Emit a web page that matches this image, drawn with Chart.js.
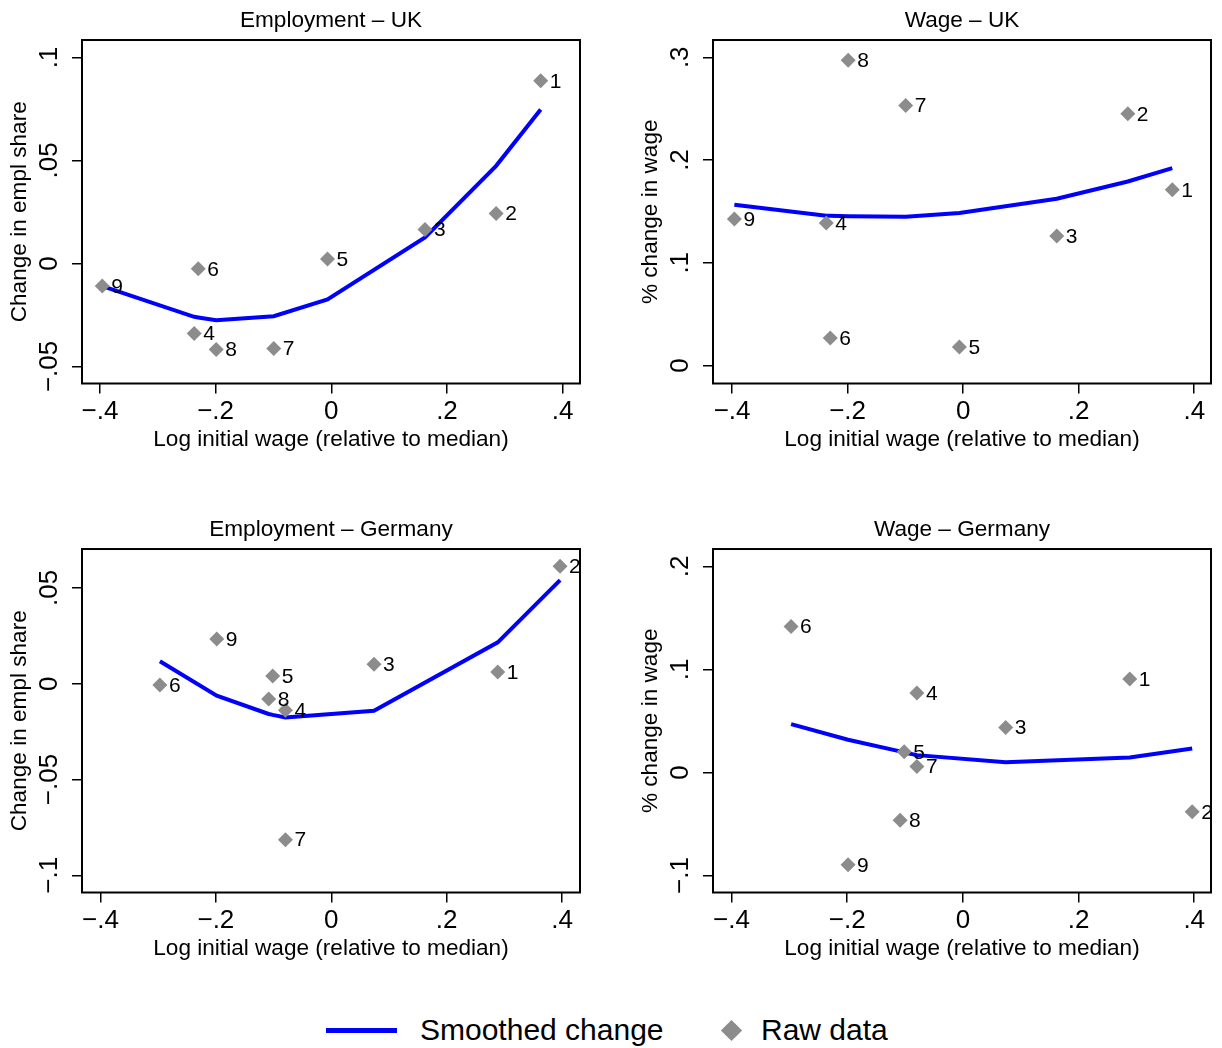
<!DOCTYPE html>
<html>
<head>
<meta charset="utf-8">
<script src="https://cdn.jsdelivr.net/npm/chart.js@4.4.1/dist/chart.umd.min.js"></script>
<style>
  body { margin:0; background:#fff; width:1222px; height:1048px; position:relative; overflow:hidden;
         font-family:"Liberation Sans", Arial, sans-serif; color:#000; }
  canvas { position:absolute; }
  .lg-line { position:absolute; left:326px; top:1028px; width:71px; height:5px; background:#0000ff; }
  .lg-dia { position:absolute; left:724px; top:1023px; width:15px; height:15px; background:#8c8c8c; transform:rotate(45deg); }
  .lg-txt { position:absolute; top:1012px; font-size:30px; line-height:36px; white-space:nowrap; }
</style>
</head>
<body>
<canvas id="empUK" width="590" height="460" style="left:0;top:0"></canvas>
<canvas id="wageUK" width="590" height="460" style="left:631px;top:0"></canvas>
<canvas id="empDE" width="590" height="460" style="left:0;top:509px"></canvas>
<canvas id="wageDE" width="590" height="460" style="left:631px;top:509px"></canvas>

<div class="lg-line"></div>
<div class="lg-txt" style="left:420px">Smoothed change</div>
<div class="lg-dia"></div>
<div class="lg-txt" style="left:761px">Raw data</div>

<script>
// ── Data (index i = occupation i+1) ───────────────────────────────
const OCC = [1, 2, 3, 4, 5, 6, 7, 8, 9];

const UK_X           = [0.362, 0.285, 0.162, -0.237, -0.0065, -0.230, -0.0995, -0.199, -0.396];
const UK_EMP         = [0.0887, 0.0243, 0.0165, -0.0340, 0.0021, -0.0026, -0.0413, -0.0418, -0.0109];
const UK_EMP_SMOOTH  = [0.0748, 0.0474, 0.0126, -0.0259, -0.0175, -0.0262, -0.0256, -0.0276, -0.0110];
const UK_WAGE        = [0.171, 0.245, 0.126, 0.1386, 0.0181, 0.0269, 0.253, 0.297, 0.1425];
const UK_WAGE_SMOOTH = [0.1921, 0.1791, 0.1623, 0.1458, 0.1484, 0.1457, 0.1448, 0.1452, 0.1565];

const DE_X           = [0.2885, 0.3965, 0.074, -0.0795, -0.1015, -0.297, -0.0795, -0.1085, -0.1985];
const DE_EMP         = [0.0061, 0.0613, 0.0101, -0.0139, 0.0040, -0.0007, -0.0814, -0.0080, 0.0233];
const DE_EMP_SMOOTH  = [0.0216, 0.0541, -0.0141, -0.0176, -0.0163, 0.0117, -0.0176, -0.0158, -0.0063];
const DE_WAGE        = [0.0906, -0.0382, 0.0437, 0.077, 0.0201, 0.1417, 0.0058, -0.0463, -0.0896];
const DE_WAGE_SMOOTH = [0.0146, 0.0233, 0.0100, 0.0168, 0.0194, 0.0469, 0.0168, 0.0204, 0.0317];

const X_TICKS         = [-0.4, -0.2, 0, 0.2, 0.4];
const Y_TICKS_EMP_UK  = [-0.05, 0, 0.05, 0.1];
const Y_TICKS_WAGE_UK = [0, 0.1, 0.2, 0.3];
const Y_TICKS_EMP_DE  = [-0.1, -0.05, 0, 0.05];
const Y_TICKS_WAGE_DE = [-0.1, 0, 0.1, 0.2];

const X_TITLE = "Log initial wage (relative to median)";
const FONT = '"Liberation Sans", Arial, sans-serif';
const H = 460;

Chart.defaults.font.family = FONT;
Chart.defaults.color = "#000";

// Stata-style labels: ".05", "−.1", "0"
const fmt = v => v === 0 ? "0" : (v < 0 ? "\u2212" : "") + String(+Math.abs(v).toFixed(3)).replace(/^0/, "");

// frame, rotated y tick labels, occupation numbers
const panelPlugin = {
  id: "panelDeco",
  afterDraw(chart) {
    const { ctx, chartArea: a } = chart;
    ctx.save();
    ctx.strokeStyle = "#000";
    ctx.lineWidth = 2;
    ctx.strokeRect(a.left, a.top, a.right - a.left, a.bottom - a.top);

    const ys = chart.scales.y;
    ctx.fillStyle = "#000";
    ctx.font = "26px " + FONT;
    ctx.textAlign = "center";
    ctx.textBaseline = "alphabetic";
    ys.ticks.forEach((t, i) => {
      ctx.save();
      ctx.translate(a.left - 25.3, ys.getPixelForTick(i));
      ctx.rotate(-Math.PI / 2);
      ctx.fillText(t.label, 0, 0);
      ctx.restore();
    });

    const meta = chart.getDatasetMeta(0);
    ctx.font = "21px " + FONT;
    ctx.textAlign = "left";
    ctx.textBaseline = "middle";
    meta.data.forEach((pt, i) => ctx.fillText(String(OCC[i]), pt.x + 9, pt.y + 1));
    ctx.restore();
  }
};

function smoothLine(xs, ys) {
  return xs.map((x, i) => ({ x, y: ys[i] })).sort((p, q) => p.x - q.x);
}

function makePanel(id, title, yTitle, xs, ys, smooth, yTicks, yMin, yMax, xMin, xMax) {
  return new Chart(document.getElementById(id), {
    type: "scatter",
    data: {
      datasets: [
        { label: "Raw data", data: xs.map((x, i) => ({ x, y: ys[i] })),
          pointStyle: "rectRot", pointRadius: 7.5, pointHoverRadius: 7.5,
          backgroundColor: "#8c8c8c", borderWidth: 0 },
        { label: "Smoothed change", data: smoothLine(xs, smooth), showLine: true,
          borderColor: "#0000ff", borderWidth: 4, pointRadius: 0, tension: 0, fill: false }
      ]
    },
    options: {
      responsive: false, animation: false, devicePixelRatio: 1,
      layout: { padding: { left: 0, right: 10, top: 0, bottom: 0 } },
      plugins: {
        legend: { display: false },
        tooltip: { enabled: false },
        title: { display: true, text: title, fullSize: false, color: "#000",
                 font: { size: 22.6, weight: "normal" }, padding: { top: 7.3, bottom: 5.6 } }
      },
      scales: {
        x: {
          type: "linear", min: xMin, max: xMax,
          afterBuildTicks: s => { s.ticks = X_TICKS.map(v => ({ value: v })); },
          afterFit: s => { s.height = H - 383.5; },
          border: { display: false },
          grid: { drawOnChartArea: false, drawTicks: true, tickLength: 10, color: "#000", lineWidth: 1.5 },
          ticks: { color: "#000", font: { size: 26 }, padding: 3, maxRotation: 0, autoSkip: false, callback: v => fmt(v) },
          title: { display: true, text: X_TITLE, color: "#000", font: { size: 22.6 }, padding: { top: 0, bottom: 6.4 } }
        },
        y: {
          type: "linear", min: yMin, max: yMax,
          afterBuildTicks: s => { s.ticks = yTicks.map(v => ({ value: v })); },
          afterFit: s => { s.width = 82; },
          border: { display: false },
          grid: { drawOnChartArea: false, drawTicks: true, tickLength: 10, color: "#000", lineWidth: 1.5 },
          ticks: { color: "rgba(0,0,0,0)", font: { size: 26 }, autoSkip: false, callback: v => fmt(v) },
          title: { display: true, text: yTitle, color: "#000", font: { size: 22.6 }, padding: { top: 6.2, bottom: 0 } }
        }
      }
    },
    plugins: [panelPlugin]
  });
}

makePanel("empUK", "Employment \u2013 UK", "Change in empl share",
  UK_X, UK_EMP, UK_EMP_SMOOTH, Y_TICKS_EMP_UK, -0.0583, 0.1085, -0.431, 0.430);
makePanel("wageUK", "Wage \u2013 UK", "% change in wage",
  UK_X, UK_WAGE, UK_WAGE_SMOOTH, Y_TICKS_WAGE_UK, -0.0175, 0.3168, -0.433, 0.429);
makePanel("empDE", "Employment \u2013 Germany", "Change in empl share",
  DE_X, DE_EMP, DE_EMP_SMOOTH, Y_TICKS_EMP_DE, -0.109, 0.0703, -0.432, 0.431);
makePanel("wageDE", "Wage \u2013 Germany", "% change in wage",
  DE_X, DE_WAGE, DE_WAGE_SMOOTH, Y_TICKS_WAGE_DE, -0.1165, 0.2168, -0.432, 0.429);
</script>
</body>
</html>
